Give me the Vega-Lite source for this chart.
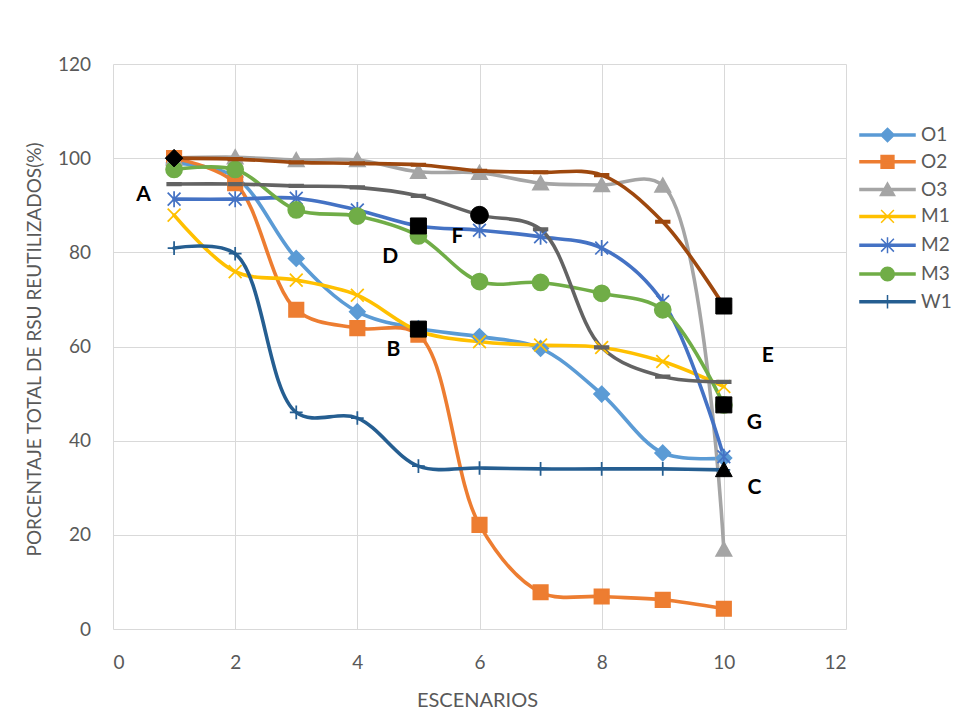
{
  "$schema": "https://vega.github.io/schema/vega-lite/v6.json",
  "width": 733,
  "height": 565,
  "autosize": {"type": "none"},
  "padding": {"left": 113, "top": 64, "right": 117, "bottom": 86},
  "background": "white",
  "config": {
    "view": {"stroke": null},
    "font": "Lato",
    "axis": {
      "domain": false,
      "ticks": false,
      "tickSize": 0,
      "grid": true,
      "gridColor": "#d9d9d9",
      "gridWidth": 1,
      "labelFont": "Lato",
      "labelFontSize": 19,
      "labelColor": "#595959",
      "titleFont": "Lato",
      "titleFontSize": 19,
      "titleFontWeight": "normal",
      "titleColor": "#595959"
    }
  },
  "datasets": {
    "series": [
      {"serie": "O1", "escenario": 1, "valor": 99.0},
      {"serie": "O1", "escenario": 2, "valor": 96.0},
      {"serie": "O1", "escenario": 3, "valor": 78.7},
      {"serie": "O1", "escenario": 4, "valor": 67.4},
      {"serie": "O1", "escenario": 5, "valor": 63.8},
      {"serie": "O1", "escenario": 6, "valor": 62.1},
      {"serie": "O1", "escenario": 7, "valor": 59.6},
      {"serie": "O1", "escenario": 8, "valor": 49.9},
      {"serie": "O1", "escenario": 9, "valor": 37.4},
      {"serie": "O1", "escenario": 10, "valor": 36.3},
      {"serie": "O2", "escenario": 1, "valor": 100.0},
      {"serie": "O2", "escenario": 2, "valor": 94.7},
      {"serie": "O2", "escenario": 3, "valor": 67.8},
      {"serie": "O2", "escenario": 4, "valor": 63.9},
      {"serie": "O2", "escenario": 5, "valor": 62.5},
      {"serie": "O2", "escenario": 6, "valor": 22.1},
      {"serie": "O2", "escenario": 7, "valor": 7.8},
      {"serie": "O2", "escenario": 8, "valor": 6.9},
      {"serie": "O2", "escenario": 9, "valor": 6.2},
      {"serie": "O2", "escenario": 10, "valor": 4.3},
      {"serie": "O3", "escenario": 1, "valor": 100.0},
      {"serie": "O3", "escenario": 2, "valor": 100.2},
      {"serie": "O3", "escenario": 3, "valor": 99.6},
      {"serie": "O3", "escenario": 4, "valor": 99.6},
      {"serie": "O3", "escenario": 5, "valor": 97.1},
      {"serie": "O3", "escenario": 6, "valor": 96.9},
      {"serie": "O3", "escenario": 7, "valor": 94.7},
      {"serie": "O3", "escenario": 8, "valor": 94.3},
      {"serie": "O3", "escenario": 9, "valor": 94.2},
      {"serie": "O3", "escenario": 10, "valor": 16.9},
      {"serie": "M1", "escenario": 1, "valor": 87.9},
      {"serie": "M1", "escenario": 2, "valor": 75.9},
      {"serie": "M1", "escenario": 3, "valor": 74.1},
      {"serie": "M1", "escenario": 4, "valor": 70.9},
      {"serie": "M1", "escenario": 5, "valor": 63.3},
      {"serie": "M1", "escenario": 6, "valor": 61.0},
      {"serie": "M1", "escenario": 7, "valor": 60.3},
      {"serie": "M1", "escenario": 8, "valor": 59.8},
      {"serie": "M1", "escenario": 9, "valor": 56.8},
      {"serie": "M1", "escenario": 10, "valor": 51.5},
      {"serie": "M2", "escenario": 1, "valor": 91.3},
      {"serie": "M2", "escenario": 2, "valor": 91.3},
      {"serie": "M2", "escenario": 3, "valor": 91.5},
      {"serie": "M2", "escenario": 4, "valor": 89.0},
      {"serie": "M2", "escenario": 5, "valor": 85.6},
      {"serie": "M2", "escenario": 6, "valor": 84.7},
      {"serie": "M2", "escenario": 7, "valor": 83.3},
      {"serie": "M2", "escenario": 8, "valor": 80.9},
      {"serie": "M2", "escenario": 9, "valor": 69.5},
      {"serie": "M2", "escenario": 10, "valor": 36.6},
      {"serie": "M3", "escenario": 1, "valor": 97.6},
      {"serie": "M3", "escenario": 2, "valor": 97.6},
      {"serie": "M3", "escenario": 3, "valor": 89.0},
      {"serie": "M3", "escenario": 4, "valor": 87.7},
      {"serie": "M3", "escenario": 5, "valor": 83.5},
      {"serie": "M3", "escenario": 6, "valor": 73.8},
      {"serie": "M3", "escenario": 7, "valor": 73.6},
      {"serie": "M3", "escenario": 8, "valor": 71.3},
      {"serie": "M3", "escenario": 9, "valor": 67.8},
      {"serie": "M3", "escenario": 10, "valor": 47.6},
      {"serie": "W1", "escenario": 1, "valor": 80.9},
      {"serie": "W1", "escenario": 2, "valor": 79.7},
      {"serie": "W1", "escenario": 3, "valor": 46.0},
      {"serie": "W1", "escenario": 4, "valor": 44.8},
      {"serie": "W1", "escenario": 5, "valor": 34.6},
      {"serie": "W1", "escenario": 6, "valor": 34.2},
      {"serie": "W1", "escenario": 7, "valor": 34.0},
      {"serie": "W1", "escenario": 8, "valor": 34.0},
      {"serie": "W1", "escenario": 9, "valor": 34.0},
      {"serie": "W1", "escenario": 10, "valor": 33.8},
      {"serie": "S8", "escenario": 1, "valor": 100.0},
      {"serie": "S8", "escenario": 2, "valor": 99.8},
      {"serie": "S8", "escenario": 3, "valor": 99.1},
      {"serie": "S8", "escenario": 4, "valor": 98.9},
      {"serie": "S8", "escenario": 5, "valor": 98.6},
      {"serie": "S8", "escenario": 6, "valor": 97.3},
      {"serie": "S8", "escenario": 7, "valor": 97.0},
      {"serie": "S8", "escenario": 8, "valor": 96.4},
      {"serie": "S8", "escenario": 9, "valor": 86.5},
      {"serie": "S8", "escenario": 10, "valor": 68.6},
      {"serie": "S9", "escenario": 1, "valor": 94.5},
      {"serie": "S9", "escenario": 2, "valor": 94.5},
      {"serie": "S9", "escenario": 3, "valor": 94.1},
      {"serie": "S9", "escenario": 4, "valor": 93.8},
      {"serie": "S9", "escenario": 5, "valor": 92.0},
      {"serie": "S9", "escenario": 6, "valor": 87.9},
      {"serie": "S9", "escenario": 7, "valor": 84.9},
      {"serie": "S9", "escenario": 8, "valor": 59.8},
      {"serie": "S9", "escenario": 9, "valor": 53.6},
      {"serie": "S9", "escenario": 10, "valor": 52.5}
    ],
    "puntos": [
      {"escenario": 1, "valor": 100.0, "marcador": "rombo"},
      {"escenario": 5, "valor": 85.6, "marcador": "cuadrado"},
      {"escenario": 5, "valor": 63.7, "marcador": "cuadrado"},
      {"escenario": 6, "valor": 87.9, "marcador": "circulo"},
      {"escenario": 10, "valor": 68.6, "marcador": "cuadrado"},
      {"escenario": 10, "valor": 47.6, "marcador": "cuadrado"},
      {"escenario": 10, "valor": 33.8, "marcador": "triangulo"}
    ],
    "etiquetas": [
      {"escenario": 0.5, "valor": 92.2, "texto": "A"},
      {"escenario": 4.59, "valor": 59.3, "texto": "B"},
      {"escenario": 10.5, "valor": 29.9, "texto": "C"},
      {"escenario": 4.54, "valor": 79.1, "texto": "D"},
      {"escenario": 10.72, "valor": 58.0, "texto": "E"},
      {"escenario": 5.64, "valor": 83.2, "texto": "F"},
      {"escenario": 10.5, "valor": 43.7, "texto": "G"}
    ]
  },
  "encoding": {
    "x": {
      "field": "escenario",
      "type": "quantitative",
      "scale": {"domain": [0, 12], "nice": false},
      "axis": {
        "values": [0, 2, 4, 6, 8, 10, 12],
        "title": "ESCENARIOS",
        "labelPadding": 24,
        "titleX": 364,
        "titleY": 71,
        "titleBaseline": "middle",
        "titleFontSize": 20
      }
    },
    "y": {
      "field": "valor",
      "type": "quantitative",
      "scale": {"domain": [0, 120], "nice": false},
      "axis": {
        "values": [0, 20, 40, 60, 80, 100, 120],
        "title": "PORCENTAJE TOTAL DE RSU REUTILIZADOS(%)",
        "labelPadding": 22.5,
        "titleX": -79,
        "titleY": 285,
        "titleBaseline": "middle",
        "titleAlign": "center"
      }
    }
  },
  "layer": [
    {
      "data": {"name": "series"},
      "mark": {
        "type": "line",
        "interpolate": "catmull-rom",
        "strokeWidth": 3.6,
        "strokeCap": "round",
        "strokeJoin": "round"
      },
      "encoding": {
        "stroke": {
          "field": "serie",
          "type": "nominal",
          "scale": {
            "domain": ["O1", "O2", "O3", "M1", "M2", "M3", "W1", "S8", "S9"],
            "range": ["#5B9BD5", "#ED7D31", "#A5A5A5", "#FFC000", "#4472C4", "#70AD47", "#255E91", "#9E480E", "#636363"]
          },
          "legend": null
        }
      }
    },
    {
      "data": {"name": "series"},
      "mark": {"type": "point", "filled": true, "size": 256, "strokeWidth": 1.75, "opacity": 1},
      "encoding": {
        "fill": {
          "field": "serie",
          "type": "nominal",
          "scale": {
            "domain": ["O1", "O2", "O3", "M1", "M2", "M3", "W1", "S8", "S9"],
            "range": ["#5B9BD5", "#ED7D31", "#A5A5A5", "#FFC000", "#4472C4", "#70AD47", "#255E91", "#9E480E", "#636363"]
          },
          "legend": null
        },
        "stroke": {
          "field": "serie",
          "type": "nominal",
          "scale": {
            "domain": ["O1", "O2", "O3", "M1", "M2", "M3", "W1", "S8", "S9"],
            "range": ["#5B9BD5", "#ED7D31", "#A5A5A5", "#FFC000", "#4472C4", "#70AD47", "#255E91", "#9E480E", "#636363"]
          },
          "legend": null
        },
        "shape": {
          "field": "serie",
          "type": "nominal",
          "scale": {
            "domain": ["O1", "O2", "O3", "M1", "M2", "M3", "W1", "S8", "S9"],
            "range": [
              "M0,-0.95L0.95,0L0,0.95L-0.95,0Z",
              "M-0.9,-0.9H0.9V0.9H-0.9Z",
              "M0,-0.9L0.95,0.8H-0.95Z",
              "M-0.8,-0.8L0.8,0.8M-0.8,0.8L0.8,-0.8",
              "M-0.8,-0.8L0.8,0.8M-0.8,0.8L0.8,-0.8M0,-1V1",
              "M1,0A1,1,0,1,1,-1,0A1,1,0,1,1,1,0Z",
              "M-0.8,0H0.8M0,-0.85V0.85",
              "M-0.85,-0.15H0.85V0.15H-0.85Z",
              "M-0.85,-0.15H0.85V0.15H-0.85Z"
            ]
          },
          "legend": null
        }
      }
    },
    {
      "data": {"name": "series"},
      "transform": [{"filter": "false"}],
      "mark": {"type": "point", "filled": true, "strokeWidth": 1.5, "opacity": 1},
      "encoding": {
        "fill": {
          "field": "serie",
          "type": "nominal",
          "scale": {
            "domain": ["O1", "O2", "O3", "M1", "M2", "M3", "W1"],
            "range": ["#5B9BD5", "#ED7D31", "#A5A5A5", "#FFC000", "#4472C4", "#70AD47", "#255E91"]
          },
          "legend": {
            "title": null, "orient": "none", "legendX": 747, "legendY": 61.5, "padding": 0,
            "symbolSize": 256, "symbolStrokeWidth": 1.5, "symbolOffset": 18, "labelOffset": 24,
            "rowPadding": 6.8, "labelFont": "Lato", "labelFontSize": 19, "labelColor": "#595959",
            "symbolOpacity": 1
          }
        },
        "stroke": {
          "field": "serie",
          "type": "nominal",
          "scale": {
            "domain": ["O1", "O2", "O3", "M1", "M2", "M3", "W1"],
            "range": ["#5B9BD5", "#ED7D31", "#A5A5A5", "#FFC000", "#4472C4", "#70AD47", "#255E91"]
          },
          "legend": {
            "title": null, "orient": "none", "legendX": 747, "legendY": 61.5, "padding": 0,
            "symbolSize": 256, "symbolStrokeWidth": 1.5, "symbolOffset": 18, "labelOffset": 24,
            "rowPadding": 6.8, "labelFont": "Lato", "labelFontSize": 19, "labelColor": "#595959",
            "symbolOpacity": 1
          }
        },
        "shape": {
          "field": "serie",
          "type": "nominal",
          "scale": {
            "domain": ["O1", "O2", "O3", "M1", "M2", "M3", "W1"],
            "range": [
              "M-3.44,-0.125H3.44V0.125H-3.44ZM0,-0.85L0.85,0L0,0.85L-0.85,0Z",
              "M-3.44,-0.125H3.44V0.125H-3.44ZM-0.8,-0.8H0.8V0.8H-0.8Z",
              "M-3.44,-0.125H3.44V0.125H-3.44ZM0,-0.85L0.9,0.75H-0.9Z",
              "M-3.44,-0.125H3.44V0.125H-3.44ZM-0.8,-0.8L0.8,0.8M-0.8,0.8L0.8,-0.8",
              "M-3.44,-0.125H3.44V0.125H-3.44ZM-0.8,-0.8L0.8,0.8M-0.8,0.8L0.8,-0.8M0,-1V1",
              "M-3.44,-0.125H3.44V0.125H-3.44ZM0.85,0A0.85,0.85,0,1,1,-0.85,0A0.85,0.85,0,1,1,0.85,0Z",
              "M-3.44,-0.125H3.44V0.125H-3.44ZM0,-0.85V0.85"
            ]
          },
          "legend": {
            "title": null, "orient": "none", "legendX": 747, "legendY": 61.5, "padding": 0,
            "symbolSize": 256, "symbolStrokeWidth": 1.5, "symbolOffset": 18, "labelOffset": 24,
            "rowPadding": 6.8, "labelFont": "Lato", "labelFontSize": 19, "labelColor": "#595959",
            "symbolOpacity": 1
          }
        }
      }
    },
    {
      "data": {"name": "puntos"},
      "mark": {"type": "point", "filled": true, "size": 256, "color": "#000000", "stroke": "#000000", "strokeWidth": 1, "opacity": 1},
      "encoding": {
        "shape": {
          "field": "marcador",
          "type": "nominal",
          "scale": {
            "domain": ["rombo", "cuadrado", "circulo", "triangulo"],
            "range": [
              "M0,-1.1L1.1,0L0,1.1L-1.1,0Z",
              "M-1,-1H1V1H-1Z",
              "M1.1,0A1.1,1.1,0,1,1,-1.1,0A1.1,1.1,0,1,1,1.1,0Z",
              "M0,-1L1.05,0.85H-1.05Z"
            ]
          },
          "legend": null
        }
      }
    },
    {
      "data": {"name": "etiquetas"},
      "mark": {"type": "text", "font": "Lato", "fontSize": 21, "fontWeight": "bold", "color": "#000000", "align": "center", "baseline": "middle"},
      "encoding": {
        "text": {"field": "texto", "type": "nominal"}
      }
    }
  ],
  "resolve": {
    "scale": {"fill": "independent", "stroke": "independent", "shape": "independent"}
  }
}
